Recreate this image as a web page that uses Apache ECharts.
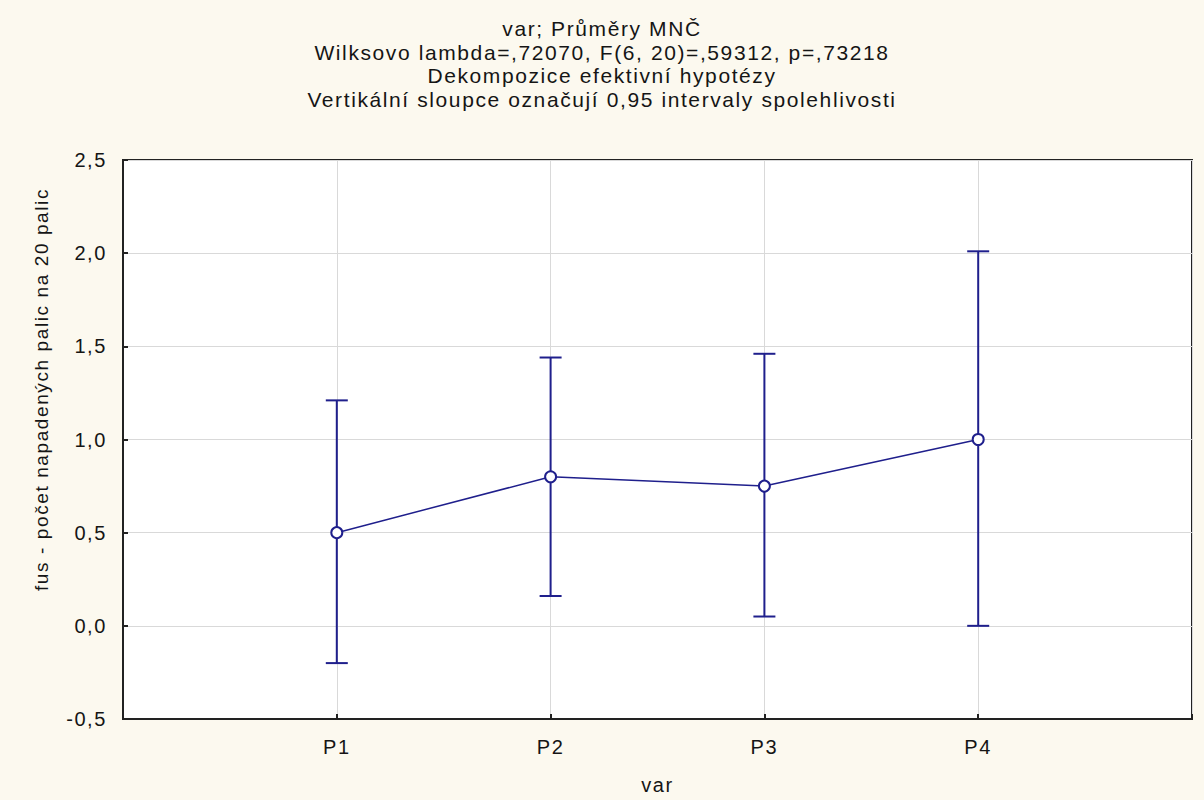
<!DOCTYPE html>
<html><head><meta charset="utf-8">
<script src="https://cdn.jsdelivr.net/npm/echarts@6/dist/echarts.min.js"></script>
<style>html,body{margin:0;padding:0;background:#fcf9ef}#c{width:1204px;height:800px}#c text{letter-spacing:1.6px}</style>
</head><body><div id="c"></div>
<script>
var categories = ['P1', 'P2', 'P3', 'P4'];
var means = [0.50, 0.80, 0.75, 1.00];
var lower = [-0.20, 0.16, 0.05, 0.00];
var upper = [1.21, 1.44, 1.46, 2.01];
var titleLines = ['var; Průměry MNČ', 'Wilksovo lambda=,72070, F(6, 20)=,59312, p=,73218', 'Dekompozice efektivní hypotézy', 'Vertikální sloupce označují 0,95 intervaly spolehlivosti'];
var xName = 'var';
var yName = 'fus - počet napadených palic na 20 palic';

var color = '#1f1f8c';
var font = 'Liberation Sans, Arial, sans-serif';
var chart = echarts.init(document.getElementById('c'), null, {renderer: 'svg'});
var lineData = means.map(function (m, i) { return [i + 1, m]; });
var errData = means.map(function (m, i) { return [i + 1, lower[i], upper[i]]; });
chart.setOption({
  backgroundColor: '#fcf9ef',
  animation: false,
  title: {
    text: titleLines.join('\n'), left: 'center', top: 12,
    textStyle: {fontFamily: font, fontSize: 21, fontWeight: 'normal', color: '#151515', lineHeight: 23.5}
  },
  grid: {left: 123, right: 12, top: 160, bottom: 80, show: true, backgroundColor: '#ffffff', borderColor: '#222', borderWidth: 2},
  xAxis: {
    type: 'value', min: 0, max: 5, interval: 1,
    name: xName, nameLocation: 'middle', nameGap: 56,
    nameTextStyle: {fontFamily: font, fontSize: 20, color: '#151515'},
    axisLine: {show: true, onZero: false, lineStyle: {color: '#222', width: 2}},
    axisTick: {show: true, inside: true, length: 5, lineStyle: {color: '#222', width: 2}},
    axisLabel: {fontFamily: font, fontSize: 20, color: '#151515', margin: 18,
      formatter: function (v) { return categories[v - 1] || ''; }},
    splitLine: {show: true, lineStyle: {color: '#d9d9d9', width: 1}}
  },
  yAxis: {
    type: 'value', min: -0.5, max: 2.5, interval: 0.5,
    name: yName, nameLocation: 'middle', nameGap: 72,
    nameTextStyle: {fontFamily: font, fontSize: 19, color: '#151515', padding: [0, 0, 0, 100]},
    axisLine: {show: true, lineStyle: {color: '#222', width: 2}},
    axisTick: {show: true, inside: true, length: 5, lineStyle: {color: '#222', width: 2}},
    axisLabel: {fontFamily: font, fontSize: 20, color: '#151515', margin: 16,
      formatter: function (v) { return v.toFixed(1).replace('.', ','); }},
    splitLine: {show: true, lineStyle: {color: '#d9d9d9', width: 1}}
  },
  series: [
    {
      type: 'custom', data: errData, z: 3,
      renderItem: function (params, api) {
        var x = api.value(0);
        var lo = api.coord([x, api.value(1)]);
        var hi = api.coord([x, api.value(2)]);
        var w = 11;
        var st = {stroke: color, lineWidth: 2};
        return {type: 'group', children: [
          {type: 'line', shape: {x1: lo[0], y1: lo[1], x2: hi[0], y2: hi[1]}, style: st},
          {type: 'line', shape: {x1: lo[0] - w, y1: lo[1], x2: lo[0] + w, y2: lo[1]}, style: st},
          {type: 'line', shape: {x1: hi[0] - w, y1: hi[1], x2: hi[0] + w, y2: hi[1]}, style: st}
        ]};
      }
    },
    {
      type: 'line', data: lineData, z: 4,
      symbol: 'emptyCircle', symbolSize: 11,
      lineStyle: {color: color, width: 1.5},
      itemStyle: {color: color, borderWidth: 1.5}
    }
  ]
});
</script></body></html>
